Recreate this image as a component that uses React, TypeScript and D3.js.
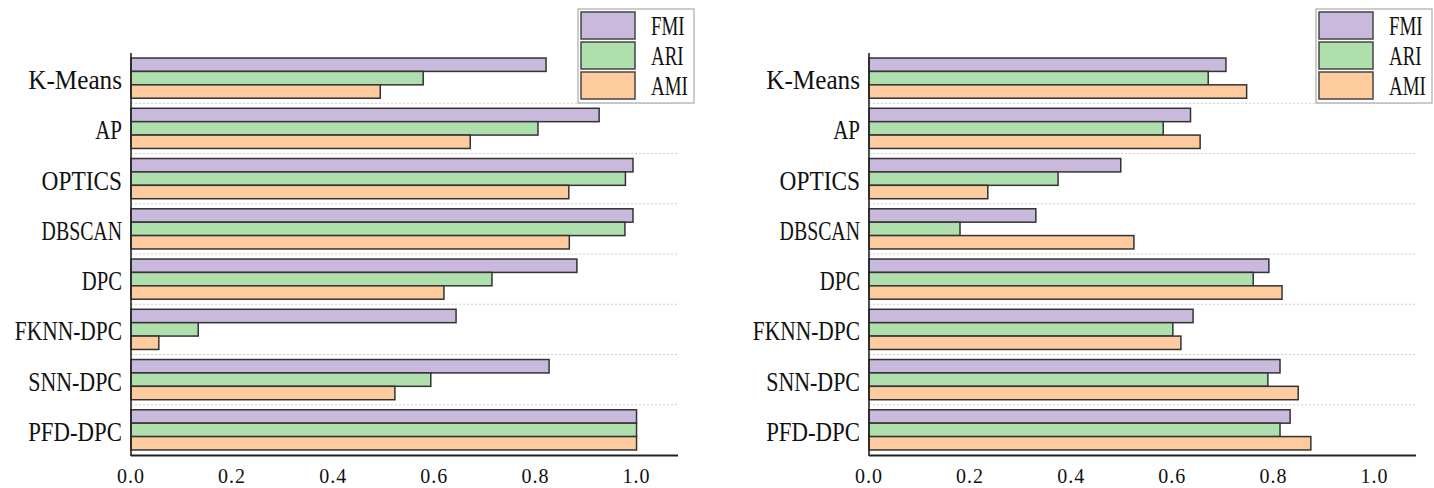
import React from "react";
import * as d3 from "d3";

const categories = ["K-Means", "AP", "OPTICS", "DBSCAN", "DPC", "FKNN-DPC", "SNN-DPC", "PFD-DPC"];
const seriesNames = ["FMI", "ARI", "AMI"];
const seriesColors = ["#C9B9DC", "#B0DFAE", "#FDCB9E"];
const xTicks = [0, 0.2, 0.4, 0.6, 0.8, 1.0];

// Left panel
const leftFMI = [0.821, 0.926, 0.993, 0.993, 0.882, 0.643, 0.827, 1.0];
const leftARI = [0.578, 0.805, 0.978, 0.977, 0.714, 0.133, 0.593, 1.0];
const leftAMI = [0.493, 0.671, 0.866, 0.867, 0.619, 0.055, 0.522, 1.0];

// Right panel
const rightFMI = [0.706, 0.636, 0.498, 0.33, 0.791, 0.641, 0.813, 0.833];
const rightARI = [0.671, 0.582, 0.374, 0.18, 0.76, 0.601, 0.789, 0.813];
const rightAMI = [0.747, 0.655, 0.235, 0.524, 0.817, 0.617, 0.849, 0.874];

const FONT = "'Liberation Serif', 'Times New Roman', serif";

function Panel({ ox, values }: { ox: number; values: number[][] }) {
  const x0 = 131;
  const x = d3.scaleLinear().domain([0, 1.082]).range([x0, 678]);
  const y = d3.scaleBand<string>().domain(categories).range([53, 455]).paddingInner(0.2).paddingOuter(0.1);
  const sub = d3.scaleBand<string>().domain(seriesNames).range([0, y.bandwidth()]);
  const step = y.step();
  const gapHalf = (step - y.bandwidth()) / 2;

  return (
    <g transform={`translate(${ox},0)`}>
      {categories.slice(1).map((c) => (
        <line
          key={"sep" + c}
          x1={x0}
          x2={678}
          y1={(y(c) as number) - gapHalf}
          y2={(y(c) as number) - gapHalf}
          stroke="#cfcfcf"
          strokeWidth={1}
          strokeDasharray="2,2"
        />
      ))}
      {categories.map((c, i) => (
        <g key={c}>
          {seriesNames.map((s, j) => (
            <rect
              key={s}
              x={x(0)}
              y={(y(c) as number) + (sub(s) as number)}
              width={x(values[j][i]) - x(0)}
              height={sub.bandwidth()}
              fill={seriesColors[j]}
              stroke="#333"
              strokeWidth={1.5}
            />
          ))}
          <text
            x={122}
            y={(y(c) as number) + y.bandwidth() / 2 + 11}
            textAnchor="end"
            fontFamily={FONT}
            fontSize={28}
            textLength={c.length * 13.4}
            lengthAdjust="spacingAndGlyphs"
            fill="#111"
          >
            {c}
          </text>
        </g>
      ))}
      <line x1={x0} x2={x0} y1={53} y2={456} stroke="#222" strokeWidth={1.6} />
      <line x1={x0} x2={678} y1={455.5} y2={455.5} stroke="#222" strokeWidth={2} />
      {xTicks.map((t) => (
        <text
          key={t}
          x={x(t)}
          y={483}
          textAnchor="middle"
          fontFamily={FONT}
          fontSize={20}
          letterSpacing={1}
          fill="#111"
        >
          {d3.format(".1f")(t)}
        </text>
      ))}
      <g>
        <rect x={578} y={9} width={116} height={94} fill="#fff" stroke="#999" strokeWidth={1} />
        {seriesNames.map((s, j) => (
          <g key={s}>
            <rect x={581} y={12 + j * 30} width={54} height={27} fill={seriesColors[j]} stroke="#444" strokeWidth={1.5} />
            <text
              transform={`translate(651,${35 + j * 30}) scale(0.7,1)`}
              fontFamily={FONT}
              fontSize={27}
              fill="#111"
            >
              {s}
            </text>
          </g>
        ))}
      </g>
    </g>
  );
}

export default function App() {
  return (
    <svg
      width={1434}
      height={488}
      style={{ position: "absolute", left: 0, top: 0, background: "#fff" }}
    >
      <rect width={1434} height={488} fill="#fff" />
      <Panel ox={0} values={[leftFMI, leftARI, leftAMI]} />
      <Panel ox={738} values={[rightFMI, rightARI, rightAMI]} />
    </svg>
  );
}
